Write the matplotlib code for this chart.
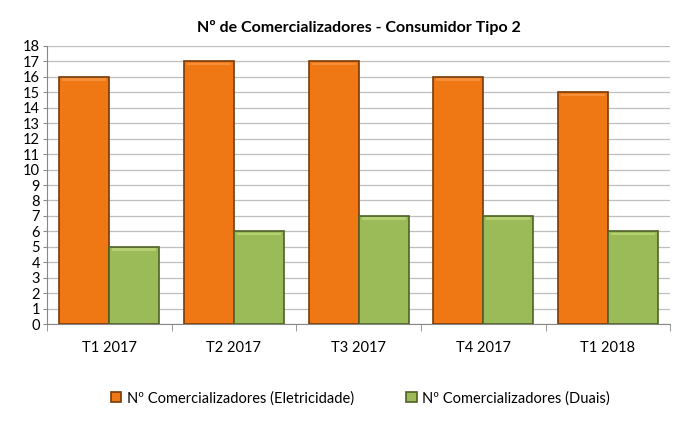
import matplotlib
matplotlib.use("Agg")
import matplotlib.pyplot as plt
import numpy as np

categories = ["T1 2017", "T2 2017", "T3 2017", "T4 2017", "T1 2018"]
eletricidade = [16, 17, 17, 16, 15]
duais = [5, 6, 7, 7, 6]
series_labels = ["Nº Comercializadores (Eletricidade)", "Nº Comercializadores (Duais)"]
title = "Nº de Comercializadores - Consumidor Tipo 2"

plt.rcParams['font.family'] = ['Lato', 'DejaVu Sans']

fig = plt.figure(figsize=(6.84, 4.25), dpi=100)
ax = fig.add_axes([0.0687, 0.2376, 0.9113, 0.6542])

x = np.arange(len(categories))
w = 0.4
b1 = ax.bar(x - w/2, eletricidade, w, color="#F07814", edgecolor="#7a3a08", linewidth=1.2,
            label=series_labels[0], zorder=3)
b2 = ax.bar(x + w/2, duais, w, color="#9BBB59", edgecolor="#4f6126", linewidth=1.2,
            label=series_labels[1], zorder=3)

# subtle top highlight
for bars, hc in ((b1, "#F5903A"), (b2, "#B5D173")):
    for r in bars:
        ax.bar(r.get_x() + r.get_width()/2, 0.15, r.get_width()*0.88,
               bottom=r.get_height() - 0.25, color=hc, linewidth=0, zorder=4)

ax.set_xlim(-0.5, len(categories) - 0.5)
ax.set_ylim(0, 18)
ax.set_yticks(range(0, 19))
ax.tick_params(axis='y', labelsize=10.5, length=3, color="#888888", pad=2)
ax.set_xticks(x)
ax.set_xticklabels(categories, fontsize=10.5)
ax.tick_params(axis='x', length=0, pad=12)
ax.set_xticks(np.arange(-0.5, len(categories)), minor=True)
ax.tick_params(axis='x', which='minor', length=5, color="#888888")
ax.yaxis.grid(True, color="#BFBFBF", linewidth=0.9, zorder=0)
ax.set_axisbelow(True)
for s in ("top", "right"):
    ax.spines[s].set_visible(False)
for s in ("left", "bottom"):
    ax.spines[s].set_color("#888888")

fig.text(0.525, 0.935, title, ha="center", va="center", fontsize=11.5, fontweight="bold")

leg = fig.legend(handles=[b1, b2], labels=series_labels, loc="center", bbox_to_anchor=(0.527, 0.063),
                 ncol=2, frameon=False, fontsize=10.5, handlelength=0.7, handleheight=0.7,
                 handletextpad=0.4, columnspacing=3.6)

fig.savefig("out.png", dpi=100)
